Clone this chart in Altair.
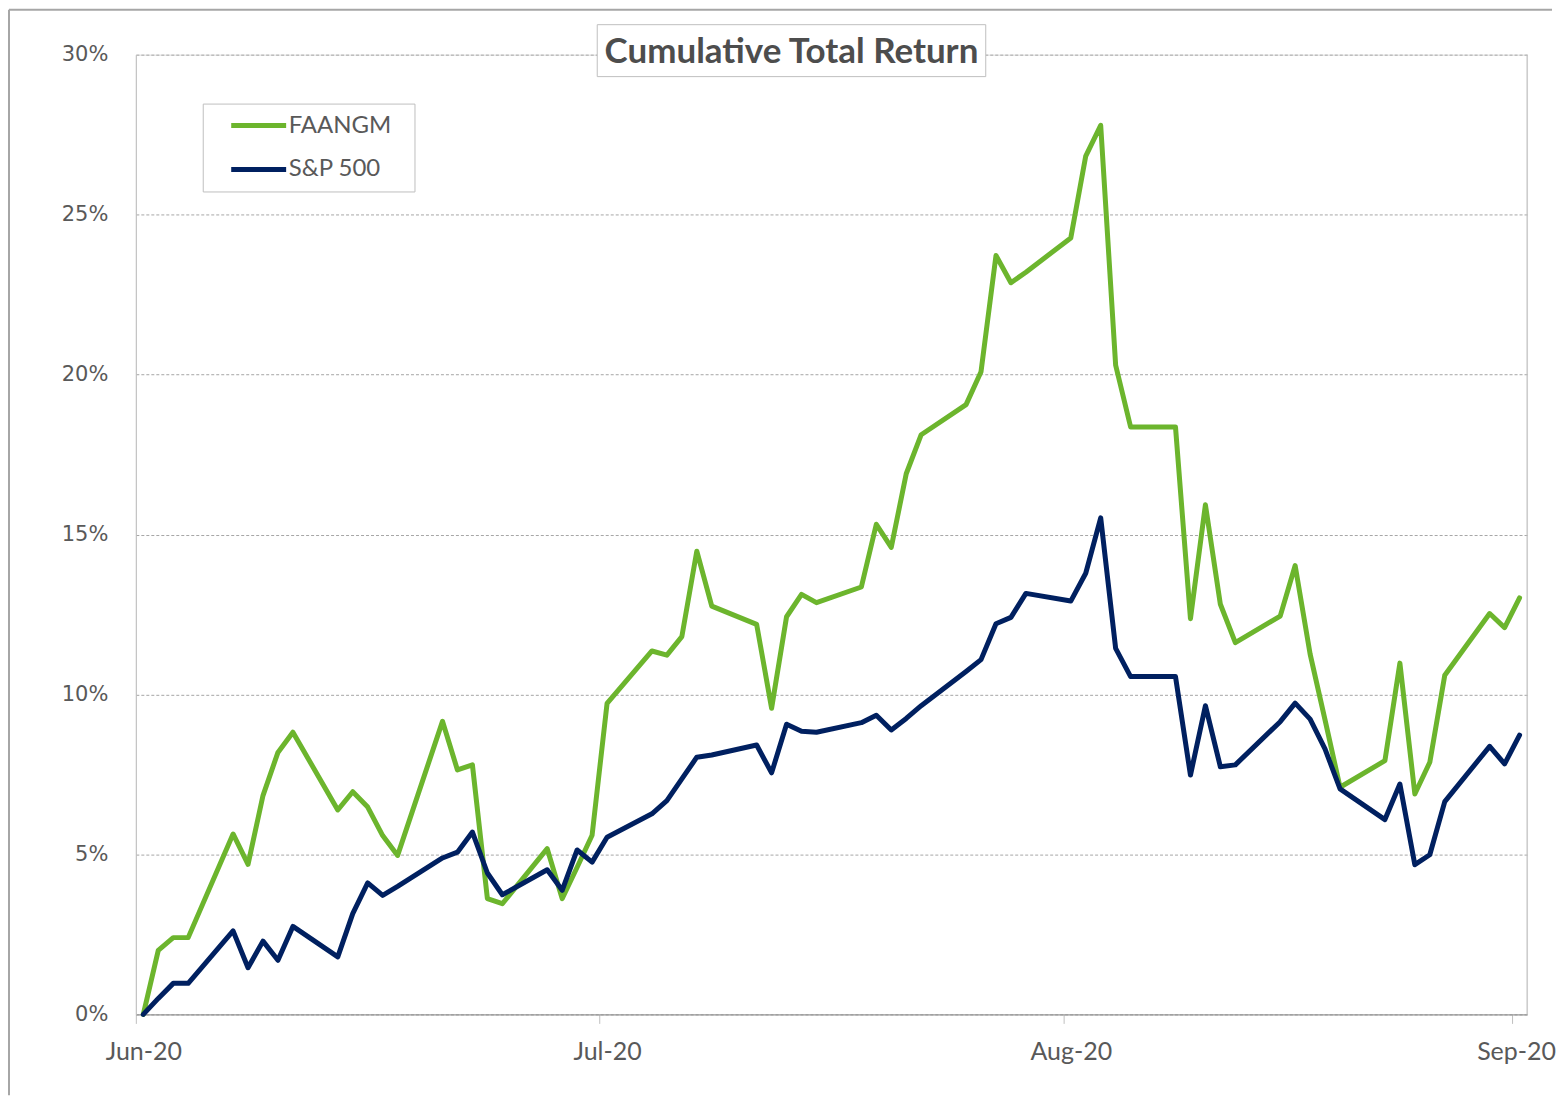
import json
import altair as alt
import pandas as pd

# ---- data ----
dates = [
    "2020-06-02", "2020-06-03", "2020-06-04", "2020-06-05",
    "2020-06-08", "2020-06-09", "2020-06-10", "2020-06-11", "2020-06-12",
    "2020-06-15", "2020-06-16", "2020-06-17", "2020-06-18", "2020-06-19",
    "2020-06-22", "2020-06-23", "2020-06-24", "2020-06-25", "2020-06-26",
    "2020-06-29", "2020-06-30", "2020-07-01", "2020-07-02", "2020-07-03",
    "2020-07-06", "2020-07-07", "2020-07-08", "2020-07-09", "2020-07-10",
    "2020-07-13", "2020-07-14", "2020-07-15", "2020-07-16", "2020-07-17",
    "2020-07-20", "2020-07-21", "2020-07-22", "2020-07-23", "2020-07-24",
    "2020-07-27", "2020-07-28", "2020-07-29", "2020-07-30", "2020-07-31",
    "2020-08-03", "2020-08-04", "2020-08-05", "2020-08-06", "2020-08-07",
    "2020-08-10", "2020-08-11", "2020-08-12", "2020-08-13", "2020-08-14",
    "2020-08-17", "2020-08-18", "2020-08-19", "2020-08-20", "2020-08-21",
    "2020-08-24", "2020-08-25", "2020-08-26", "2020-08-27", "2020-08-28",
    "2020-08-31", "2020-09-01", "2020-09-02",
]

faangm = [
    0.00, 2.00, 2.40, 2.40,
    5.64, 4.69, 6.84, 8.19, 8.82,
    6.39, 6.96, 6.48, 5.59, 4.97,
    9.16, 7.64, 7.80, 3.62, 3.46,
    5.18, 3.62, 4.60, 5.60, 9.72,
    11.36, 11.23, 11.81, 14.48, 12.76,
    12.19, 9.57, 12.43, 13.13, 12.87,
    13.36, 15.32, 14.60, 16.90, 18.12,
    19.06, 20.09, 23.72, 22.87, 23.20,
    24.27, 26.83, 27.79, 20.29, 18.36,
    18.36, 12.37, 15.93, 12.82, 11.62,
    12.45, 14.03, 11.26, 9.20, 7.10,
    7.93, 10.98, 6.89, 7.88, 10.60,
    12.53, 12.09, 13.02,
]

sp500 = [
    0.00, 0.50, 0.97, 0.97,
    2.61, 1.46, 2.29, 1.69, 2.75,
    1.80, 3.15, 4.11, 3.72, 4.00,
    4.89, 5.07, 5.70, 4.42, 3.74,
    4.52, 3.88, 5.14, 4.76, 5.54,
    6.27, 6.68, 7.36, 8.04, 8.11,
    8.42, 7.55, 9.07, 8.85, 8.82,
    9.12, 9.35, 8.89, 9.25, 9.65,
    10.72, 11.09, 12.21, 12.41, 13.16,
    12.92, 13.79, 15.52, 11.44, 10.56,
    10.56, 7.48, 9.65, 7.74, 7.80,
    9.15, 9.73, 9.23, 8.29, 7.05,
    6.09, 7.20, 4.68, 4.99, 6.65,
    8.38, 7.83, 8.73,
]

series_names = ["FAANGM", "S&P 500"]
series_colors = ["#6CB52D", "#002060"]
y_ticks = [0, 5, 10, 15, 20, 25, 30]
x_tick_days = [-0.5, 30.5, 61.5, 91.5]
x_tick_labels = ["Jun-20", "Jul-20", "Aug-20", "Sep-20"]
title_text = "Cumulative Total Return"
start_date = "2020-06-02"

# ---- build table ----
day = list((pd.to_datetime(dates) - pd.Timestamp(start_date)).days)
df = pd.concat([
    pd.DataFrame({"date": dates, "day": day, "value": faangm, "series": series_names[0]}),
    pd.DataFrame({"date": dates, "day": day, "value": sp500, "series": series_names[1]}),
], ignore_index=True)

W, H = 1393, 961
LABEL_GRAY = "#595959"

x_label_expr = f"{json.dumps(x_tick_labels)}[indexof({json.dumps(x_tick_days)}, datum.value)]"

lines = alt.Chart(df).mark_line(strokeWidth=5, strokeJoin="round", strokeCap="round").encode(
    x=alt.X(
        "day:Q",
        scale=alt.Scale(domain=[-0.5, 92.5], nice=False, zero=False),
        axis=alt.Axis(
            title=None,
            values=x_tick_days,
            labelExpr=x_label_expr,
            grid=False,
            ticks=True,
            tickSize=9,
            tickColor="#bfbfbf",
            tickWidth=1,
            domainColor="#8c8c8c",
            domainWidth=1,
            labelFont="Lato",
            labelFontSize=25,
            labelColor=LABEL_GRAY,
            labelPadding=16,
            labelFlush=False,
            labelOverlap=False,
            labelOffset={"condition": {"test": "datum.value > 90", "value": 4}, "value": 7.5},
        ),
    ),
    y=alt.Y(
        "value:Q",
        scale=alt.Scale(domain=[0, 30], nice=False, zero=True),
        axis=alt.Axis(
            title=None,
            values=y_ticks,
            labelExpr="datum.value + '%'",
            ticks=False,
            tickSize=0,
            labelPadding=28,
            labelFont="DejaVu Sans",
            labelFontSize=21,
            labelColor=LABEL_GRAY,
            domainColor="#bfbfbf",
            domainWidth=1,
            grid=True,
            gridColor="#a6a6a6",
            gridDash=[3, 2],
            gridWidth=1,
        ),
    ),
    color=alt.Color(
        "series:N",
        scale=alt.Scale(domain=series_names, range=series_colors),
        legend=alt.Legend(
            title=None,
            orient="none",
            legendX=67,
            legendY=49,
            symbolType="stroke",
            symbolSize=3025,
            symbolStrokeWidth=5,
            symbolOffset=21,
            labelFont="Lato",
            labelFontSize=24,
            labelColor=LABEL_GRAY,
            labelOffset=0,
            labelExpr="datum.label + '\u2800'",
            padding=5,
            rowPadding=10,
            clipHeight=34,
            strokeColor="#bfbfbf",
            fillColor="white",
        ),
    ),
)

deco = alt.Chart(alt.Data(values=[{}]))

border_top = deco.mark_rule(color="#a6a6a6", strokeWidth=2).encode(
    x=alt.value(-127), x2=alt.value(1418), y=alt.value(-45)
)
border_left = deco.mark_rule(color="#a6a6a6", strokeWidth=2).encode(
    x=alt.value(-127), y=alt.value(-45), y2=alt.value(1042)
)
right_border = deco.mark_rule(color="#bfbfbf", strokeWidth=1).encode(
    x=alt.value(W), y=alt.value(0), y2=alt.value(H)
)
title_box = deco.mark_rect(fill="white", stroke="#bfbfbf", strokeWidth=1).encode(
    x=alt.value(462), x2=alt.value(851), y=alt.value(-30), y2=alt.value(22)
)
title_txt = deco.mark_text(
    text=title_text, font="Lato", fontSize=35, fontWeight="bold",
    color="#4d4d4d", align="center", baseline="middle",
).encode(x=alt.value(656.5), y=alt.value(-3))

chart = alt.layer(
    border_top, border_left, right_border, lines, title_box, title_txt
).properties(width=W, height=H, padding=0).configure_view(
    stroke="transparent"
).configure(background="white")

chart.save("out.html", embed_options={"renderer": "svg", "actions": False})
